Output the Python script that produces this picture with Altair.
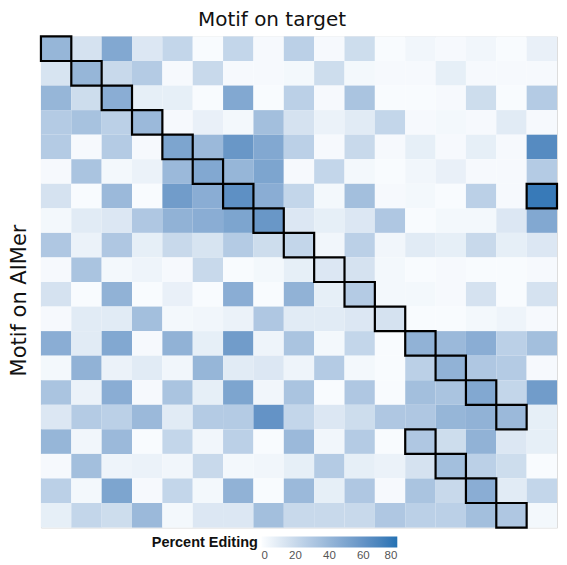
import altair as alt
import pandas as pd

# Motifs on AIMer (rows) and motifs on target (columns)
aimer_motifs = [f"A{i+1}" for i in range(20)]
target_motifs = [f"T{j+1}" for j in range(17)]

# Percent editing, one list per AIMer motif (row), across target motifs (columns)
editing = [
    [40, 15, 48, 12, 22, 1, 22, 2, 25, 2, 18, 1, 4, 2, 4, 1, 7],
    [14, 40, 20, 28, 2, 20, 2, 2, 3, 18, 3, 2, 2, 8, 2, 2, 2],
    [40, 18, 45, 8, 8, 1, 48, 1, 25, 2, 32, 1, 1, 2, 18, 1, 28],
    [28, 33, 25, 38, 2, 7, 3, 35, 15, 6, 10, 22, 2, 3, 2, 10, 2],
    [28, 2, 28, 2, 50, 38, 58, 48, 25, 2, 20, 2, 8, 2, 8, 2, 65],
    [2, 32, 3, 6, 38, 48, 40, 50, 2, 22, 3, 1, 4, 7, 2, 2, 28],
    [15, 1, 38, 1, 55, 45, 62, 45, 22, 3, 35, 2, 3, 1, 25, 2, 75],
    [3, 10, 12, 30, 42, 45, 50, 58, 12, 8, 12, 30, 1, 3, 3, 12, 48],
    [30, 6, 30, 8, 20, 14, 28, 18, 22, 4, 25, 4, 10, 8, 20, 8, 12],
    [2, 32, 3, 5, 2, 20, 1, 3, 8, 12, 15, 3, 1, 2, 1, 1, 2],
    [15, 1, 42, 1, 7, 1, 45, 1, 42, 8, 28, 3, 3, 2, 15, 1, 15],
    [2, 10, 10, 35, 3, 4, 6, 30, 10, 10, 12, 15, 1, 1, 3, 5, 2],
    [45, 10, 48, 2, 42, 8, 55, 5, 32, 3, 22, 1, 42, 38, 45, 25, 35],
    [3, 42, 6, 10, 4, 40, 10, 12, 5, 28, 3, 1, 25, 42, 30, 28, 2],
    [32, 6, 45, 2, 32, 8, 50, 4, 32, 1, 30, 1, 35, 32, 48, 22, 55],
    [12, 28, 25, 38, 10, 28, 28, 60, 22, 12, 18, 30, 30, 40, 42, 38, 8],
    [40, 4, 38, 1, 22, 4, 25, 1, 38, 4, 28, 1, 30, 18, 42, 12, 8],
    [2, 35, 5, 6, 4, 20, 3, 4, 8, 28, 8, 6, 15, 35, 25, 18, 1],
    [25, 3, 50, 2, 22, 3, 42, 1, 38, 8, 30, 2, 32, 20, 45, 10, 22],
    [8, 22, 18, 38, 3, 12, 12, 35, 20, 20, 20, 30, 25, 25, 35, 30, 3],
]

# Matching (outlined) cells: (row index, column index)
highlight_rows = [0, 1, 2, 3, 4, 5, 6, 6, 7, 8, 9, 10, 11, 12, 13, 14, 15, 16, 17, 18, 19]
highlight_cols = [0, 1, 2, 3, 4, 5, 6, 16, 7, 8, 9, 10, 11, 12, 13, 14, 15, 12, 13, 14, 15]

records = []
for i, row in enumerate(editing):
    for j, v in enumerate(row):
        records.append({"aimer": aimer_motifs[i], "target": target_motifs[j], "pct": v})
df = pd.DataFrame(records)

hl = pd.DataFrame({
    "aimer": [aimer_motifs[r] for r in highlight_rows],
    "target": [target_motifs[c] for c in highlight_cols],
})

W, H = 517, 492

xenc = alt.X(
    "target:N",
    sort=target_motifs,
    scale=alt.Scale(paddingInner=0, paddingOuter=0),
    axis=alt.Axis(
        orient="top", labels=False, ticks=False, domain=False,
        title="Motif on target", titleFont="DejaVu Sans", titleFontSize=20,
        titleFontWeight="normal", titleColor="#111111",
        titleX=231, titleY=-11, titleAlign="center", titleBaseline="alphabetic",
    ),
)
yenc = alt.Y(
    "aimer:N",
    sort=aimer_motifs,
    scale=alt.Scale(paddingInner=0, paddingOuter=0),
    axis=alt.Axis(
        labels=False, ticks=False, domain=False,
        title="Motif on AIMer", titleFont="DejaVu Sans", titleFontSize=21,
        titleFontWeight="normal", titleColor="#111111",
        titleX=-21, titleY=264, titleAngle=-90, titleAlign="center", titleBaseline="middle",
    ),
)

heat = alt.Chart(df).mark_rect().encode(
    x=xenc,
    y=yenc,
    color=alt.Color(
        "pct:Q",
        scale=alt.Scale(domain=[0, 80], range=["#fbfdff", "#2472b3"]),
        legend=alt.Legend(
            title="Percent Editing", orient="none", direction="horizontal",
            legendX=111, legendY=501, titleOrient="left",
            gradientLength=136, gradientThickness=11, gradientStrokeWidth=0,
            values=[0, 20, 40, 60, 80],
            titleFont="Liberation Sans", titleFontSize=14.5, titleFontWeight="bold",
            titleColor="#111111", titlePadding=3,
            labelFont="Liberation Sans", labelFontSize=11.5, labelColor="#555555",
        ),
    ),
)

boxes = alt.Chart(hl).mark_rect(fillOpacity=0, stroke="black", strokeWidth=2.2).encode(
    x=alt.X("target:N", sort=target_motifs),
    y=alt.Y("aimer:N", sort=aimer_motifs),
)

chart = (
    alt.layer(heat, boxes)
    .properties(
        width=W, height=H,
        autosize=alt.AutoSizeParams(type="none"),
        padding={"left": 33, "top": 28, "right": 2, "bottom": 40},
    )
    .configure_view(stroke=None)
    .configure(background="white")
)

chart.save("out.html", embed_options={"renderer": "svg", "actions": False})
